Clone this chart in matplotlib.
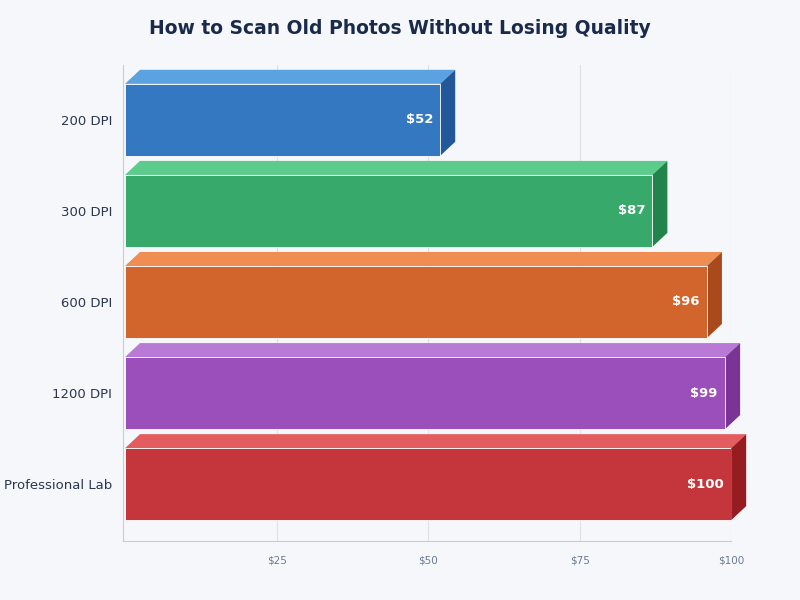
import matplotlib
matplotlib.use("Agg")
import matplotlib.pyplot as plt
from matplotlib.patches import Polygon, Rectangle

categories = ["200 DPI", "300 DPI", "600 DPI", "1200 DPI", "Professional Lab"]
values = [52, 87, 96, 99, 100]
front = ["#3478c1", "#37a96a", "#d2652c", "#9b4fba", "#c4363b"]
topc = ["#5ba3e0", "#5ccb8b", "#ef8d52", "#b97ad6", "#e25c60"]
side = ["#22589a", "#22844a", "#a84a1b", "#7b3396", "#951c21"]
ticks = [25, 50, 75, 100]

bg = "#f5f7fb"
fig = plt.figure(figsize=(8, 6), dpi=100, facecolor=bg)
ax = fig.add_axes([0.154, 0.098, 0.76, 0.794], facecolor=bg)
ax.set_xlim(-0.3, 100)
ax.set_ylim(4.626, -0.604)
h = 0.79
dx, dy = 2.47, 0.154
for i, (v, f, t, s) in enumerate(zip(values, front, topc, side)):
    y0, y1 = i - h / 2, i + h / 2
    ax.add_patch(Polygon([(0, y0), (dx, y0 - dy), (v + dx, y0 - dy), (v, y0)],
                         closed=True, fc=t, ec="none", zorder=3, clip_on=False))
    ax.add_patch(Polygon([(v, y0), (v + dx, y0 - dy), (v + dx, y1 - dy), (v, y1)],
                         closed=True, fc=s, ec="none", zorder=3, clip_on=False))
    ax.add_patch(Rectangle((0, y0), v, h, fc=f, ec="white", lw=0.6, zorder=4))
    ax.text(v - 1.2, i, f"${v}", ha="right", va="center", color="white",
            fontsize=9.5, fontweight="bold", zorder=5)
ax.set_yticks(range(len(categories)))
ax.set_yticklabels(categories, fontsize=9.5, color="#2a3550")
ax.set_xticks(ticks)
ax.set_xticklabels([f"${t}" for t in ticks], fontsize=7.5, color="#6b7a90")
ax.tick_params(length=0, pad=8)
ax.tick_params(axis="x", pad=10)
ax.grid(axis="x", color="#dde1e8", lw=0.8, zorder=0)
ax.set_axisbelow(True)
for sp in ["top", "right"]:
    ax.spines[sp].set_visible(False)
for sp in ["left", "bottom"]:
    ax.spines[sp].set_color("#c8ccd4")
fig.text(0.5, 0.953, "How to Scan Old Photos Without Losing Quality", ha="center",
         va="center", fontsize=13.5, fontweight="bold", color="#1a2a4a")
fig.savefig("out.png", dpi=100, facecolor=bg)
